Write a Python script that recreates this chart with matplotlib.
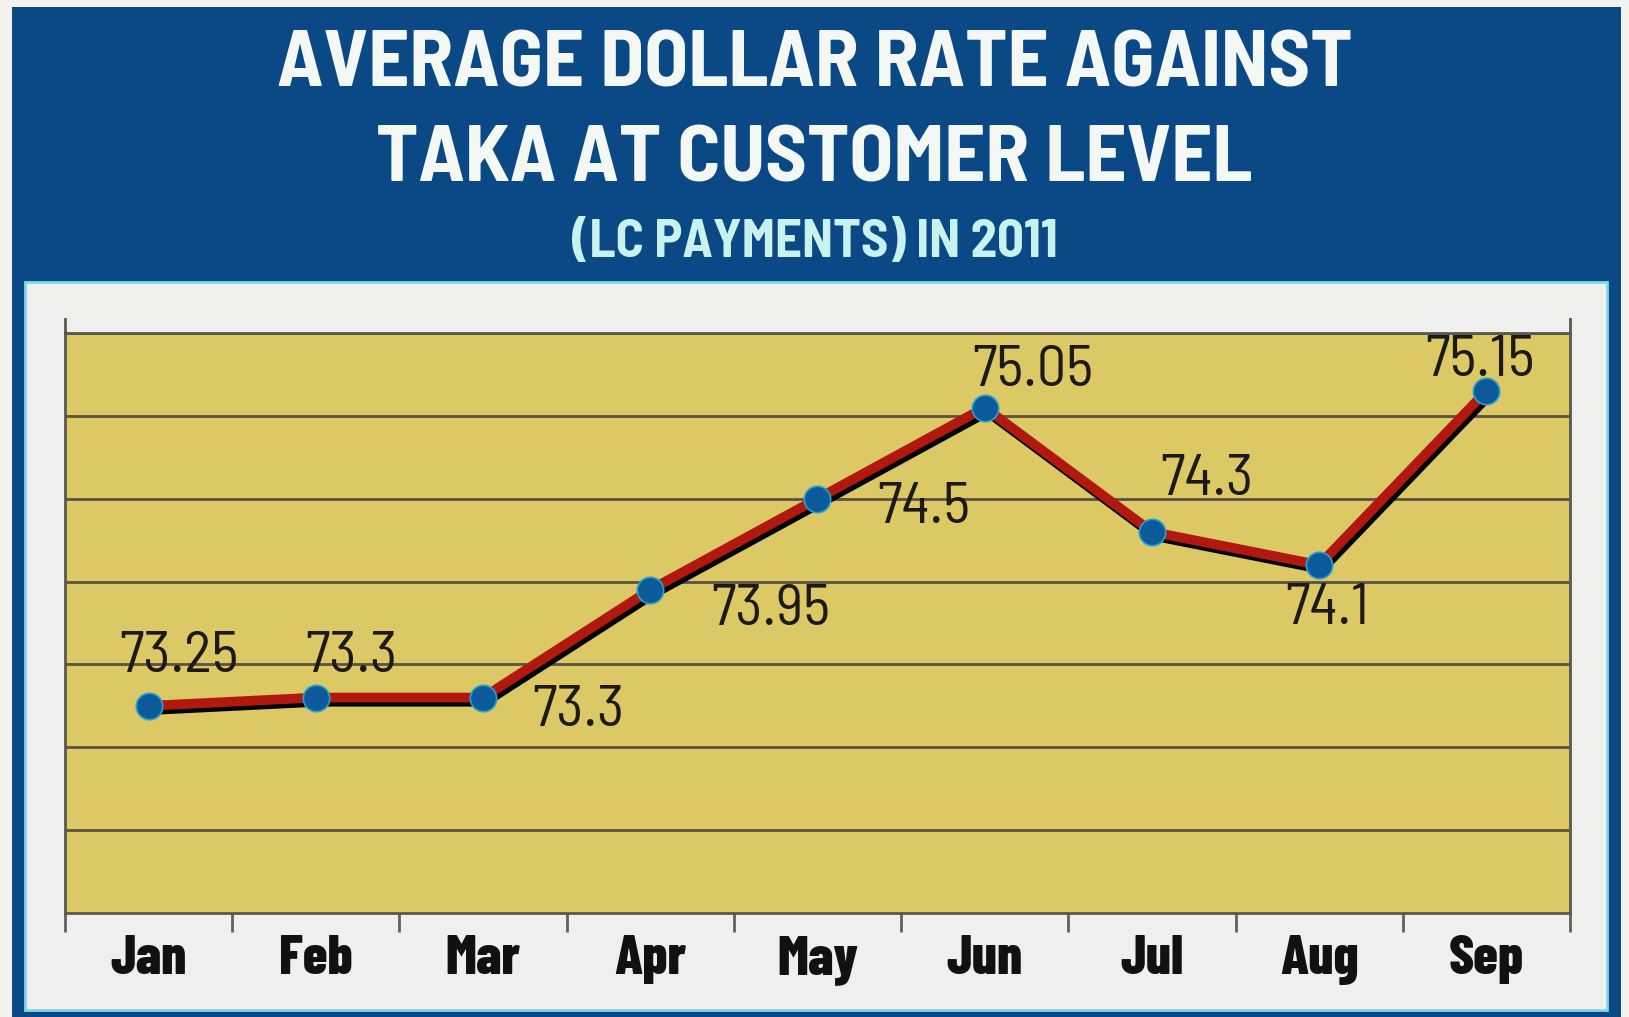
import matplotlib.pyplot as plt
import matplotlib.patheffects as pe
from matplotlib.patches import Rectangle

# ========== data ==========
months = ['Jan', 'Feb', 'Mar', 'Apr', 'May', 'Jun', 'Jul', 'Aug', 'Sep']
rates = [73.25, 73.3, 73.3, 73.95, 74.5, 75.05, 74.3, 74.1, 75.15]
labels = ['73.25', '73.3', '73.3', '73.95', '74.5', '75.05', '74.3', '74.1', '75.15']
# label offsets (pixels) from each point
label_dx = [30, 36, 95, 120, 106, 48, 55, 8, -6]
label_dy = [48, 40, -14, -21, -10, 36, 51, -44, 30]

title1 = "AVERAGE DOLLAR RATE AGAINST"
title2 = "TAKA AT CUSTOMER LEVEL"
title3 = "(LC PAYMENTS) IN 2011"

# ========== colours ==========
blue = "#0a4886"
panel = "#eff0ee"
gold = "#dcc864"
red = "#b01810"
dot = "#0b5a9a"
grid_c = "#5c5242"

cond = ['Barlow Semi Condensed', 'DejaVu Sans']
cond2 = ['Barlow Condensed', 'DejaVu Sans']

W, H = 1629, 1017
fig = plt.figure(figsize=(W / 100, H / 100), dpi=100, facecolor="#f2f2ee")


def box(x0, y0, x1, y1, **kw):
    # rectangle in pixel coords measured from the top-left corner
    fig.patches.append(Rectangle((x0 / W, 1 - y1 / H), (x1 - x0) / W, (y1 - y0) / H,
                                 transform=fig.transFigure, **kw))


box(12, 7, 1621, 1017, facecolor=blue, edgecolor='none', zorder=0)
box(25, 282, 1607, 1010, facecolor=panel, edgecolor="#7fd8e8", linewidth=2, zorder=0)

fig.text(0.5, 1 - 66 / H, title1, ha='center', va='center', color="#f4f8f4",
         fontsize=58, fontweight='bold', family=cond)
fig.text(0.5, 1 - 161 / H, title2, ha='center', va='center', color="#f4f8f4",
         fontsize=58, fontweight='bold', family=cond)
fig.text(0.5, 1 - 243 / H, title3, ha='center', va='center', color="#c8f2ee",
         fontsize=38, fontweight='bold', family=cond)

# ========== plot ==========
ax = fig.add_axes([65 / W, 1 - 913 / H, (1570 - 65) / W, (913 - 333) / H])
ax.set_zorder(2)
ax.set_facecolor(gold)
x = range(len(months))

ax.plot(x, rates, color=red, linewidth=7, solid_capstyle='round', zorder=3,
        path_effects=[pe.SimpleLineShadow(offset=(2, -3), shadow_color='black', alpha=1),
                      pe.Normal()])
ax.plot(x, rates, linestyle='none', marker='o', markersize=19, markerfacecolor=dot,
        markeredgecolor="#2aa0d0", markeredgewidth=1.2, zorder=4)

for i, (v, t) in enumerate(zip(rates, labels)):
    ax.annotate(t, (i, v), xytext=(label_dx[i], label_dy[i]), textcoords='offset pixels',
                ha='center', va='center', fontsize=42, color="#1c1a16", family=cond,
                zorder=5)

ax.set_xlim(-0.5, len(months) - 0.5)
ax.set_ylim(72, 75.5)
ax.set_yticks([72.5 + 0.5 * k for k in range(7)])
ax.yaxis.grid(True, color=grid_c, linewidth=2)
ax.tick_params(axis='y', left=False, labelleft=False)
ax.set_axisbelow(True)

ax.set_xticks(list(x))
ax.set_xticklabels(months, fontsize=40, fontweight=800, family=cond2, color="#111111")
ax.set_xticks([k - 0.5 for k in range(len(months) + 1)], minor=True)
ax.tick_params(axis='x', which='major', length=0, pad=16)
ax.tick_params(axis='x', which='minor', length=14, width=2, color="#606060")

for side in ['left', 'right', 'bottom', 'top']:
    ax.spines[side].set_color("#5a5650")
    ax.spines[side].set_linewidth(2)

# axis lines run a little above the top grid line
for xx in (0, 1):
    ax.plot([xx, xx], [1, 1.025], transform=ax.transAxes, color="#5a5650",
            linewidth=2, clip_on=False)

plt.savefig("out.png", dpi=100, facecolor=fig.get_facecolor())
